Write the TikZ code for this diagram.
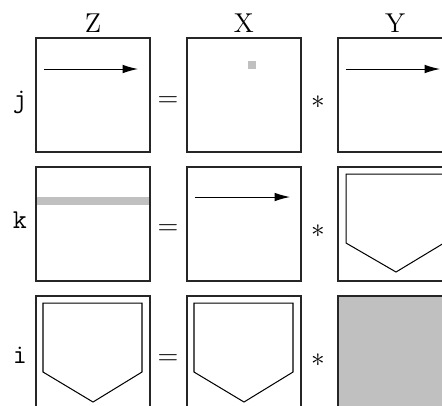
\documentclass[tikz,border=0pt]{standalone}
\usepackage{tikz}
\usetikzlibrary{arrows.meta}
\definecolor{cellGray}{RGB}{192,192,192}
\tikzset{
  cell/.style={draw=black!85, line width=0.55pt},
  vec/.style={-{Latex[length=6.8pt,width=3.8pt]}, line width=0.45pt},
  pent/.style={draw=black, line width=0.45pt},
  head/.style={font=\large},
  op/.style={font=\large},
}

\begin{document}
\begin{tikzpicture}[x=0.44pt,y=-0.44pt]
    \useasboundingbox (0,0) rectangle (442,405);
    \clip (0,0) rectangle (442,405);

    % column heads and row labels
    \node[head, anchor=base] (headZ) at (93,32) {Z};
    \node[head, anchor=base] (headX) at (244,32) {X};
    \node[head, anchor=base] (headY) at (395,32) {Y};
    \node[head, anchor=base] (rowj) at (20,107) {\texttt{j}};
    \node[head, anchor=base] (rowk) at (20,228) {\texttt{k}};
    \node[head, anchor=base] (rowi) at (20,363) {\texttt{i}};

    % row j
    \draw[cell] (36,38) rectangle ++(114,114);
    \draw[vec] (44,69) -- (138,69);
    \node[op] (eqj) at (168,102) {$=$};
    \draw[cell] (187,38) rectangle ++(114,114);
    \fill[cellGray] (248,61) rectangle (256,69);
    \node[op] (astj) at (318,102) {$*$};
    \draw[cell] (338,38) rectangle ++(114,114);
    \draw[vec] (346,69) -- (440,69);

    % row k
    \fill[cellGray] (36,197) rectangle (150,205);
    \draw[cell] (36,167) rectangle ++(114,114);
    \node[op] (eqk) at (168,230) {$=$};
    \draw[cell] (187,167) rectangle ++(114,114);
    \draw[vec] (195,197) -- (290,197);
    \node[op] (astk) at (318,231) {$*$};
    \draw[cell] (338,167) rectangle ++(114,114);
    \draw[pent] (346,174) -- (444,174) -- (444,243) -- (396,272) -- (346,243) -- cycle;

    % row i
    \draw[cell] (36,296) rectangle ++(114,114);
    \draw[pent] (43,303) -- (142,303) -- (142,372) -- (93,402) -- (43,372) -- cycle;
    \node[op] (eqi) at (168,360) {$=$};
    \draw[cell] (187,296) rectangle ++(114,114);
    \draw[pent] (194,303) -- (293,303) -- (293,372) -- (244,402) -- (194,372) -- cycle;
    \node[op] (asti) at (318,360) {$*$};
    \draw[cell, fill=cellGray] (338,296) rectangle ++(114,114);
\end{tikzpicture}
\end{document}
